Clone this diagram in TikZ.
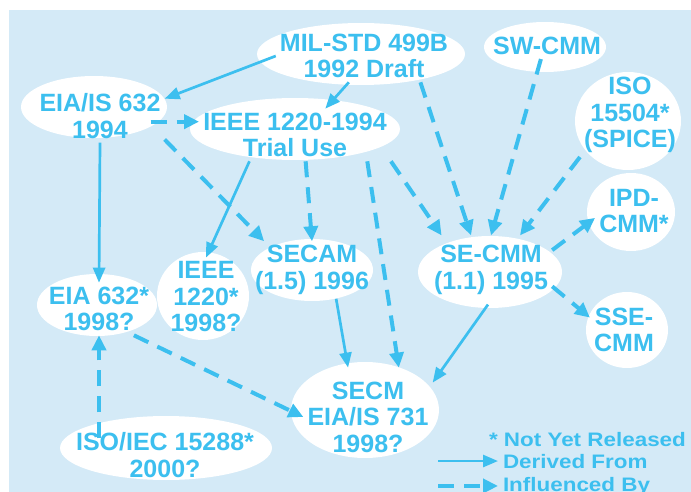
\documentclass[tikz,border=0pt]{standalone}
\usepackage{fontspec}
\setmainfont{Liberation Sans}
\newfontfamily\legendfont{Liberation Sans}[FakeStretch=1.15]
\usetikzlibrary{arrows.meta}
\definecolor{skyline}{RGB}{60,191,239}
\definecolor{paleblue}{RGB}{212,234,247}

\begin{document}
\begin{tikzpicture}[x = 1pt, y = -1pt]
	\tikzstyle{doc} = [text = skyline, font = \bfseries\fontsize{25}{26.5}\selectfont, align = center, inner sep = 4pt]
	\tikzstyle{legend} = [text = skyline, font = \legendfont\bfseries\fontsize{19.5}{23}\selectfont, inner sep = 0pt, outer xsep = 5pt]
	\tikzstyle{derived} = [draw = skyline, line width = 2.7pt, -{Triangle[length = 15pt, width = 12pt]}]
	\tikzstyle{influenced} = [draw = skyline, line width = 4pt, dash pattern = on 16pt off 10pt, -{Triangle[length = 15pt, width = 14pt]}]

	\useasboundingbox (0, 0) rectangle (691, 492);
	\fill[paleblue] (9, 10) rectangle (691, 492);

	\foreach \cx/\cy/\rx/\ry in {361/54/104/31, 545/47/61/25, 628/121/53/49, 94/107/73/31,
		295/129/105/31, 631/212/44/39, 490/272/72/36, 627/330/41/38, 312/270/61/31,
		203/296/46/44, 97/305/60/31, 365/410/74/48, 166/448/106/32}
		\fill[white] (\cx, \cy) ellipse [x radius = \rx pt, y radius = \ry pt];

	\node[doc] at (364, 56) (mil) {MIL-STD 499B\\1992 Draft};
	\node[doc] at (547, 46) (sw) {SW-CMM};
	\node[doc] at (630, 115) (iso) {ISO\\15504*\\(SPICE)};
	\node[doc] at (100, 116) (eia94) {EIA/IS 632\\1994};
	\node[doc] at (295, 135) (ieee94) {IEEE 1220-1994\\Trial Use};
	\node[doc] at (634, 211) (ipd) {IPD-\\CMM*};
	\node[doc, outer ysep = 6pt] at (491, 270) (secmm) {SE-CMM\\(1.1) 1995};
	\node[doc] at (624, 330) (sse) {SSE-\\CMM};
	\node[doc] at (312, 270) (secam) {SECAM\\(1.5) 1996};
	\node[doc] at (206, 297) (ieee98) {IEEE\\1220*\\1998?};
	\node[doc] at (99, 309) (eia98) {EIA 632*\\1998?};
	\node[doc, outer ysep = 10pt] at (368, 417) (secm) {SECM\\EIA/IS 731\\1998?};
	\node[doc] at (165, 455) (iso88) {ISO/IEC 15288*\\2000?};

	\draw[derived] (mil.west) -- (eia94.15);
	\draw[derived] (mil.240) -- (ieee94.41);
	\draw[derived] (eia94.south) -- (eia98.north);
	\draw[derived] (ieee94.210) -- (ieee98.north);
	\draw[derived] (secam.-50) -- (secm.112);
	\draw[derived] (secmm.265) -- (secm.28);

	\draw[influenced, shorten <= -14pt] (eia94.-5) -- (eia94.-5 -| ieee94.west);
	\draw[influenced] (eia94.-20) -- (secam.149);
	\draw[influenced] (ieee94.-68) -- (secam.north);
	\draw[influenced] (mil.-25) -- (secmm.120);
	\draw[influenced] (ieee94.-20) -- (secm.58);
	\draw[influenced] (ieee94.south east) -- (secmm.145);
	\draw[influenced] (sw.-115) -- (secmm.90);
	\draw[influenced] (iso.south west) -- (secmm.50);
	\draw[influenced] (secmm.18) -- (ipd.190);
	\draw[influenced] (secmm.-15) -- (sse.160);
	\draw[influenced] (eia98.-37) -- (secm.west);
	\draw[influenced, shorten <= -10pt] (eia98.south |- iso88.north) -- (eia98.south);

	\node[legend, anchor = base west] at (484, 446) (note) {* Not Yet Released};
	\node[legend, anchor = base west] at (498, 468) (dlabel) {Derived From};
	\node[legend, anchor = base west] at (498, 491) (ilabel) {Influenced By};
	\coordinate (dfrom) at (438,0 |- dlabel.west);
	\coordinate (ifrom) at (438,0 |- ilabel.west);
	\draw[derived] (dfrom) -- (dlabel.west);
	\draw[influenced] (ifrom) -- (ilabel.west);
\end{tikzpicture}
\end{document}
